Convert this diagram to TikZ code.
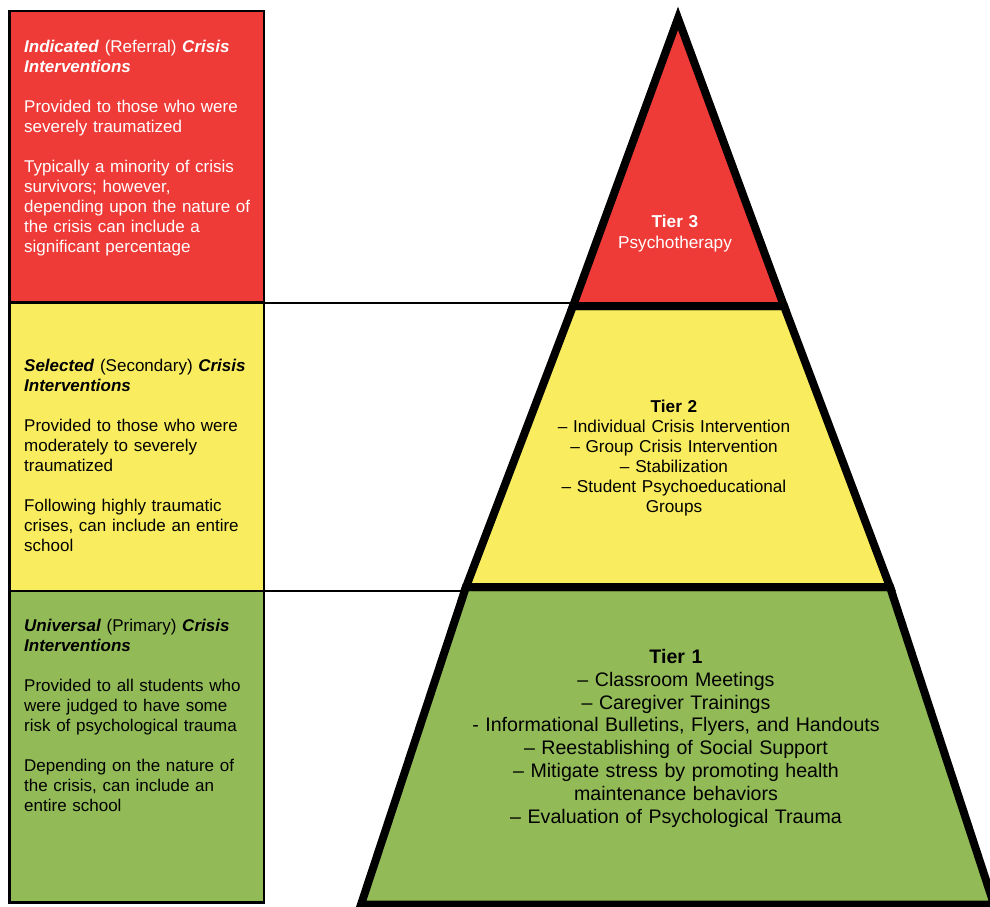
\documentclass[tikz,border=0pt]{standalone}
\usepackage{fontspec}
\setmainfont{Liberation Sans}
\definecolor{tred}{RGB}{239,59,56}
\definecolor{tyellow}{RGB}{249,237,95}
\definecolor{tgreen}{RGB}{146,187,88}
\begin{document}
\begin{tikzpicture}[x=1pt,y=-1pt,
  boxstyle/.style={draw=black, line width=2.5pt, anchor=north west, inner sep=0pt, outer sep=0pt, minimum width=254.5pt},
  sidetext/.style={anchor=base west, inner sep=0pt, text width=260pt, align=left, font=\fontsize{17}{20}\selectfont},
  tiertext/.style={anchor=base, inner sep=0pt, text width=500pt, align=center, font=\fontsize{17.2}{20}\selectfont},
  conn/.style={draw=black, line width=2pt},
  tier/.style={draw=black, line width=8pt, line join=miter}]
\useasboundingbox (0,0) rectangle (990,907);

% left boxes
\node[boxstyle, fill=tred, minimum height=291.5pt] (redbox) at (9.3,11) {};
\node[boxstyle, fill=tyellow, minimum height=288.5pt] (yellowbox) at (9.3,302.5) {};
\node[boxstyle, fill=tgreen, minimum height=311.3pt] (greenbox) at (9.3,591) {};

% pyramid corner points
\coordinate (A) at (678,18.3);
\coordinate (L1) at (573,306);
\coordinate (R1) at (784,306);
\coordinate (L2) at (466,587);
\coordinate (R2) at (890,587);
\coordinate (L3) at (361,904.5);
\coordinate (R3) at (994,904.5);
\coordinate (c1) at (575,302.5);
\coordinate (c2) at (466,591);

% connectors
\draw[conn] (redbox.south east) -- (c1);
\draw[conn] (yellowbox.south east) -- (c2);

% pyramid
\filldraw[tier, fill=tgreen] (L2) -- (R2) -- (R3) -- (L3) -- cycle;
\filldraw[tier, fill=tyellow] (L1) -- (R1) -- (R2) -- (L2) -- cycle;
\filldraw[tier, fill=tred] (A) -- (R1) -- (L1) -- cycle;

% side texts
\node[sidetext, text=white] (redtext) at (24,52.5)
{\textbf{\textit{Indicated}} (Referral) \textbf{\textit{Crisis}}\\
\textbf{\textit{Interventions}}\\[20pt]
Provided to those who were\\
severely traumatized\\[20pt]
Typically a minority of crisis\\
survivors; however,\\
depending upon the nature of\\
the crisis can include a\\
significant percentage};

\node[sidetext] (yellowtext) at (24,371.7)
{\textbf{\textit{Selected}} (Secondary) \textbf{\textit{Crisis}}\\
\textbf{\textit{Interventions}}\\[20pt]
Provided to those who were\\
moderately to severely\\
traumatized\\[20pt]
Following highly traumatic\\
crises, can include an entire\\
school};

\node[sidetext] (greentext) at (24,631.7)
{\textbf{\textit{Universal}} (Primary) \textbf{\textit{Crisis}}\\
\textbf{\textit{Interventions}}\\[20pt]
Provided to all students who\\
were judged to have some\\
risk of psychological trauma\\[20pt]
Depending on the nature of\\
the crisis, can include an\\
entire school};

% tier texts
\node[tiertext, text=white, font=\fontsize{17.2}{20.6}\selectfont] (t3) at (675,227.7)
{\textbf{Tier 3}\\
Psychotherapy};

\node[tiertext] (t2) at (674,412.7)
{\textbf{Tier 2}\\
– Individual Crisis Intervention\\
– Group Crisis Intervention\\
– Stabilization\\
– Student Psychoeducational\\
Groups};

\node[tiertext, font=\fontsize{19.6}{22.85}\selectfont] (t1) at (676,663.3)
{\textbf{Tier 1}\\
– Classroom Meetings\\
– Caregiver Trainings\\
- Informational Bulletins, Flyers, and Handouts\\
– Reestablishing of Social Support\\
– Mitigate stress by promoting health\\
maintenance behaviors\\
– Evaluation of Psychological Trauma};
\end{tikzpicture}
\end{document}
